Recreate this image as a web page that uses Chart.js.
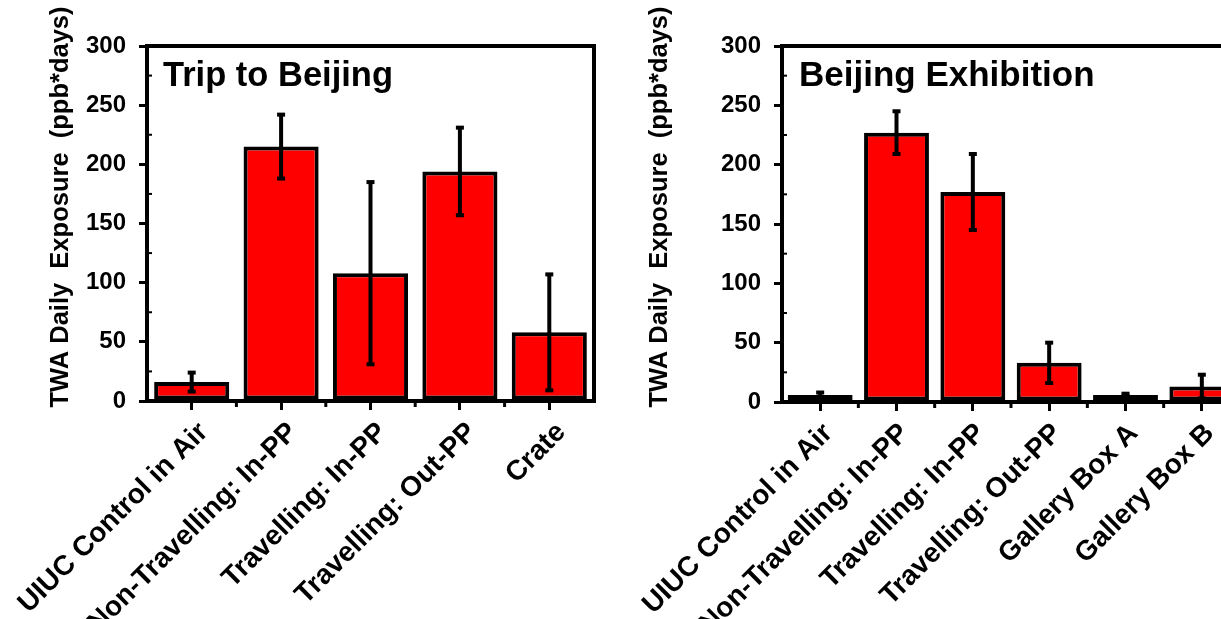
<!DOCTYPE html>
<html>
<head>
<meta charset="utf-8">
<script src="https://cdn.jsdelivr.net/npm/chart.js@4.4.1/dist/chart.umd.min.js"></script>
<style>
  html, body { margin: 0; padding: 0; overflow: hidden; background: #fff; width: 1221px; height: 619px; }
  #wrapTrip { position: absolute; left: 0; top: 0; width: 600px; height: 619px; }
  #wrapExhibit { position: absolute; left: 600px; top: 0; width: 640px; height: 619px; }
  canvas { display: block; }
</style>
</head>
<body>
<div id="wrapTrip"><canvas id="tripChart" width="600" height="619"></canvas></div>
<div id="wrapExhibit"><canvas id="exhibitChart" width="640" height="619"></canvas></div>
<script>
// Panel 1: trip to Beijing
const tripCategories = ['UIUC Control in Air', 'Non-Travelling: In-PP', 'Travelling: In-PP', 'Travelling: Out-PP', 'Crate'];
const tripMeans = [16, 215, 108, 194, 58];
const tripErrors = [8, 27, 77, 37, 49];

// Panel 2: Beijing exhibition
const exhibitCategories = ['UIUC Control in Air', 'Non-Travelling: In-PP', 'Travelling: In-PP', 'Travelling: Out-PP', 'Gallery Box A', 'Gallery Box B'];
const exhibitMeans = [6, 227, 177, 33, 6, 13];
const exhibitErrors = [2, 18, 32, 17, 1, 10];

// Shared value axis
const yTicks = [0, 50, 100, 150, 200, 250, 300];
const yMinorTicks = [25, 75, 125, 175, 225, 275];
const yTitle = 'TWA Daily  Exposure  (ppb*days)';

const FONT = "'Liberation Sans', Arial, sans-serif";

// Frame, minor ticks, error bars, panel heading and axis title
const panelDecor = {
  id: 'panelDecor',
  afterDatasetsDraw(chart, args, opts) {
    const { ctx, chartArea: a, scales: { x, y } } = chart;
    ctx.save();
    ctx.fillStyle = '#000';
    ctx.strokeStyle = '#000';

    // error bars
    const values = chart.data.datasets[0].data;
    ctx.lineWidth = 4;
    values.forEach((v, i) => {
      const e = opts.errors[i];
      const px = x.getPixelForValue(i);
      const top = y.getPixelForValue(v + e);
      const bot = y.getPixelForValue(Math.max(0, v - e));
      ctx.beginPath();
      ctx.moveTo(px, top);
      ctx.lineTo(px, bot);
      ctx.stroke();
      ctx.fillRect(px - 4, top - 2, 8, 4);
      ctx.fillRect(px - 4, bot - 2, 8, 4);
    });

    // plot frame
    ctx.lineWidth = 4;
    ctx.strokeRect(a.left, a.top, a.right - a.left, a.bottom - a.top);

    // minor ticks on the value axis (inward)
    ctx.lineWidth = 2;
    yMinorTicks.forEach(v => {
      const py = y.getPixelForValue(v);
      ctx.beginPath();
      ctx.moveTo(a.left, py);
      ctx.lineTo(a.left + 5, py);
      ctx.stroke();
    });

    // minor ticks between categories (outward)
    ctx.lineWidth = 3;
    for (let i = 0; i < values.length - 1; i++) {
      const px = (x.getPixelForValue(i) + x.getPixelForValue(i + 1)) / 2;
      ctx.beginPath();
      ctx.moveTo(px, a.bottom);
      ctx.lineTo(px, a.bottom + 6);
      ctx.stroke();
    }

    // panel heading
    ctx.font = 'bold ' + opts.headingSize + 'px ' + FONT;
    ctx.textAlign = 'left';
    ctx.textBaseline = 'alphabetic';
    ctx.fillText(opts.heading, a.left + opts.headingDx, 86);

    // value axis title
    ctx.font = 'bold 25.5px ' + FONT;
    ctx.translate(opts.titleX, opts.titleY);
    ctx.rotate(-Math.PI / 2);
    ctx.textAlign = 'center';
    ctx.fillText(yTitle, 0, 0);
    ctx.restore();
  }
};

function makeChart(canvasId, categories, means, errors, cfg) {
  return new Chart(document.getElementById(canvasId), {
    type: 'bar',
    data: {
      labels: categories,
      datasets: [{
        data: means,
        backgroundColor: '#ff0000',
        borderColor: '#000000',
        borderWidth: 4,
        borderSkipped: false,
        barPercentage: cfg.barPct,
        categoryPercentage: 1
      }]
    },
    options: {
      responsive: false,
      animation: false,
      devicePixelRatio: 1,
      layout: { padding: { left: 0, right: cfg.padRight, top: 46, bottom: 0 } },
      plugins: {
        legend: { display: false },
        tooltip: { enabled: false },
        panelDecor: {
          errors: errors,
          heading: cfg.heading,
          headingSize: cfg.headingSize,
          headingDx: cfg.headingDx,
          titleX: cfg.titleX,
          titleY: 207
        }
      },
      scales: {
        x: {
          type: 'category',
          offset: true,
          border: { display: false },
          grid: { display: true, drawOnChartArea: false, offset: false, color: '#000', lineWidth: 3, tickLength: 9 },
          ticks: {
            autoSkip: false,
            minRotation: 45,
            maxRotation: 45,
            padding: 6,
            labelOffset: cfg.labelShift,
            color: '#000',
            font: { family: FONT, size: 28, weight: 'bold' }
          },
          afterFit(s) {
            s.height = cfg.xAxisHeight;
            s.paddingLeft = 0;
            s.paddingRight = 0;
          }
        },
        y: {
          min: 0,
          max: 300,
          border: { display: false },
          grid: { display: true, drawOnChartArea: false, color: '#000', lineWidth: 3, tickLength: 8 },
          afterBuildTicks(s) { s.ticks = yTicks.map(v => ({ value: v })); },
          ticks: {
            padding: 13,
            color: '#000',
            font: { family: FONT, size: 24, weight: 'bold' }
          },
          afterFit(s) {
            s.width = cfg.yAxisWidth;
            s.paddingTop = 0;
            s.paddingBottom = 0;
          }
        }
      }
    },
    plugins: [panelDecor]
  });
}

makeChart('tripChart', tripCategories, tripMeans, tripErrors, {
  barPct: 0.84, padRight: 6, yAxisWidth: 147, xAxisHeight: 218, labelShift: 12,
  heading: 'Trip to Beijing', headingSize: 34.5, headingDx: 16, titleX: 68
});

makeChart('exhibitChart', exhibitCategories, exhibitMeans, exhibitErrors, {
  barPct: 0.85, padRight: 0, yAxisWidth: 182, xAxisHeight: 217, labelShift: 8,
  heading: 'Beijing Exhibition', headingSize: 35, headingDx: 17, titleX: 67
});
</script>
</body>
</html>
